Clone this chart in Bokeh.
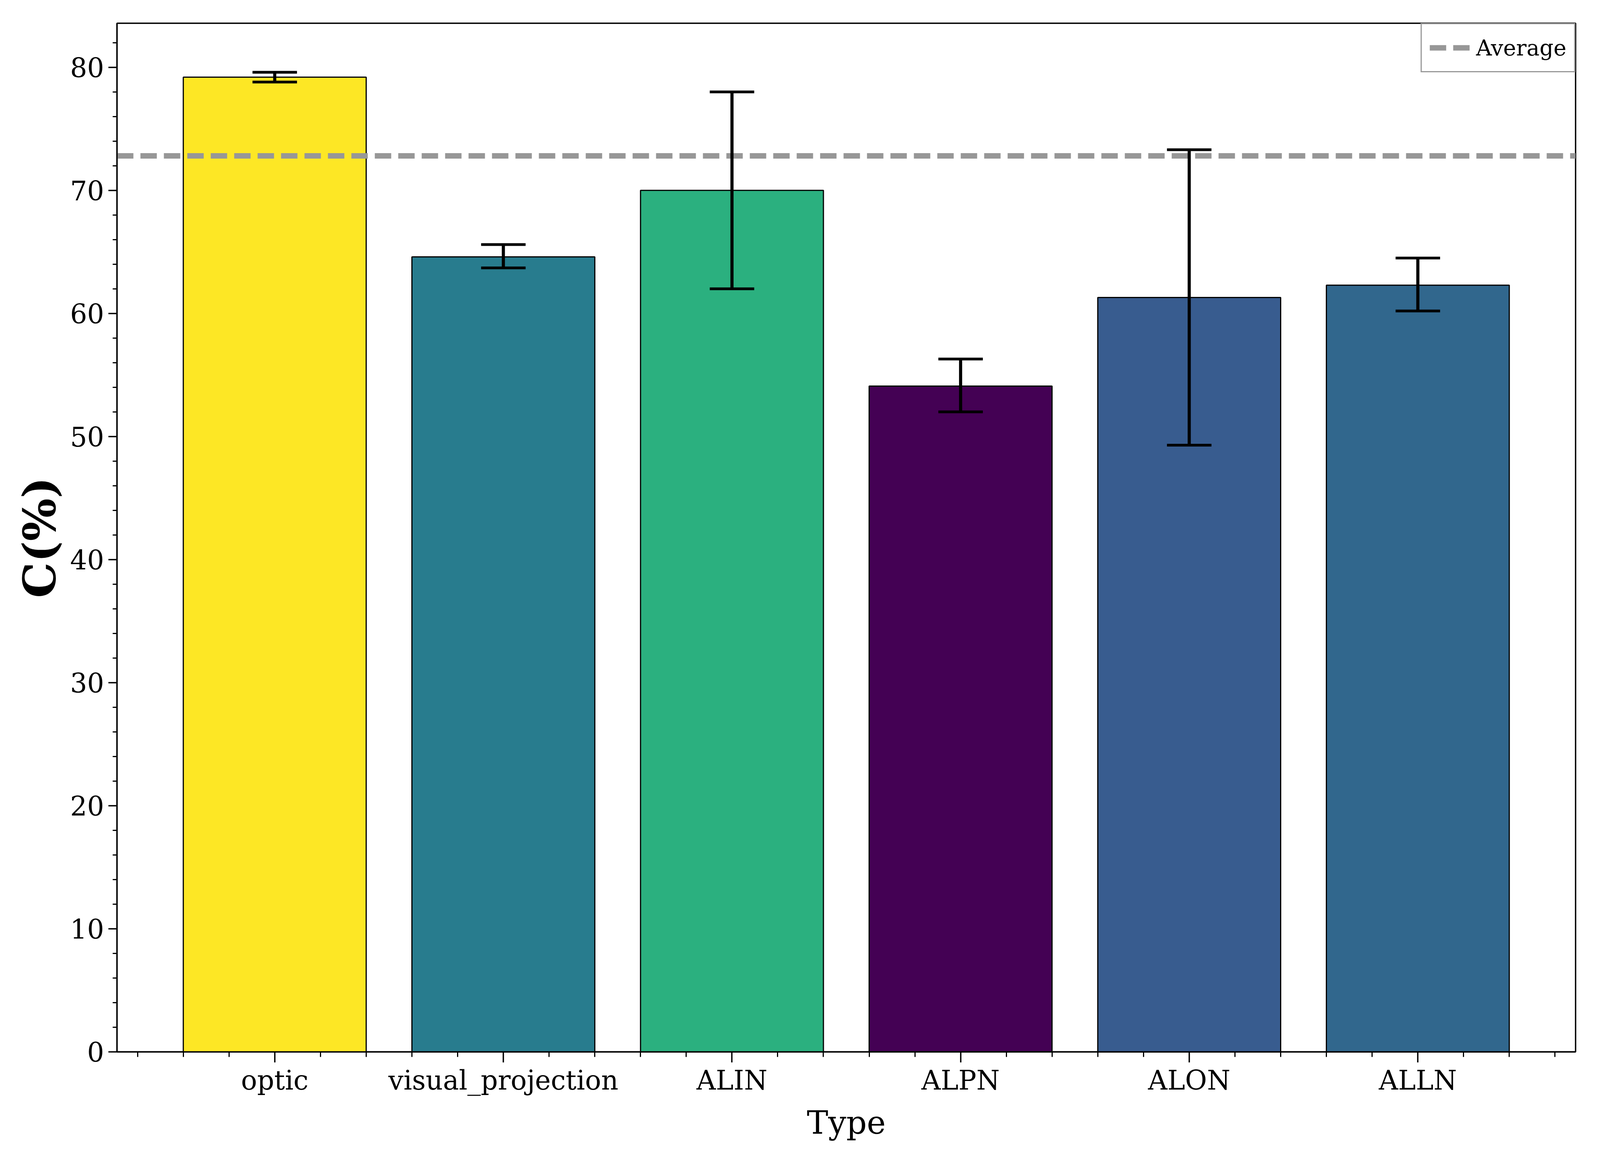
import numpy as np
from bokeh.plotting import figure
from bokeh.models import (ColumnDataSource, FixedTicker, SingleIntervalTicker,
                          Range1d, Whisker, TeeHead)
from bokeh.embed import file_html
from bokeh.resources import INLINE

# ---------------- data ----------------
categories = ["optic", "visual_projection", "ALIN", "ALPN", "ALON", "ALLN"]
values = [79.2, 64.6, 70.0, 54.1, 61.3, 62.3]
err_lower = [78.8, 63.7, 62.0, 52.0, 49.3, 60.2]
err_upper = [79.6, 65.6, 78.0, 56.3, 73.3, 64.5]
bar_colors = ["#fde725", "#287c8e", "#2bb07f", "#440154", "#385c8f", "#31678d"]
average_value = 72.8
x_label = "Type"
y_label = "C(%)"
legend_text = "Average"

FONT = "DejaVu Serif"
SX = 0.8192   # horizontal css px per reference px (viewport is 4096 wide)
SY = 1.0      # vertical
SF = 0.9      # font scale


def fs(v):
    return "%.1fpx" % (v * SF)


pos = list(range(len(categories)))
src = ColumnDataSource(dict(x=pos, top=values, lower=err_lower, upper=err_upper,
                            color=bar_colors, cat=categories))

bar_w = 0.8
span = len(categories) - 1 + bar_w
x_lo = -bar_w / 2 - 0.05 * span
x_hi = len(categories) - 1 + bar_w / 2 + 0.05 * span
y_hi = max(err_upper) * 1.05

W = 4096 - 16
H = 3000 - 16
p = figure(width=W, height=H, output_backend="svg", toolbar_location=None,
           x_range=Range1d(x_lo, x_hi), y_range=Range1d(0, y_hi),
           min_border_left=int(round(375 * SX - 8)),
           min_border_right=int(round(W + 8 - 4933 * SX)),
           min_border_top=int(round(67 * SY - 8)),
           min_border_bottom=int(round(H + 8 - 2700 * SY)))
p.background_fill_color = "white"
p.border_fill_color = "white"
p.xgrid.visible = False
p.ygrid.visible = False
p.outline_line_color = "black"
p.outline_line_width = 3.5

p.vbar(x="x", top="top", width=bar_w, bottom=0, source=src, fill_color="color",
       line_color="black", line_width=3)

err = Whisker(source=src, base="x", lower="lower", upper="upper",
              line_color="black", line_width=8, level="overlay",
              upper_head=TeeHead(size=139 * SX, line_width=7, line_color="black"),
              lower_head=TeeHead(size=139 * SX, line_width=7, line_color="black"))
p.add_layout(err)

avg = p.line(x=[x_lo, x_hi], y=[average_value, average_value], line_color="#979797",
             line_width=14, line_dash="%d %d" % (round(51 * SX), round(22 * SX)),
             legend_label=legend_text)

# axes
xa = p.xaxis[0]
xa.ticker = FixedTicker(ticks=pos,
                        minor_ticks=[round(v, 2) for v in np.arange(-0.6, 5.61, 0.2)])
xa.major_label_overrides = {i: c for i, c in enumerate(categories)}
xa.axis_label = x_label
ya = p.yaxis[0]
ya.ticker = SingleIntervalTicker(interval=10, num_minor_ticks=5)
ya.axis_label = y_label

for ax in (xa, ya):
    ax.axis_line_color = "black"
    ax.axis_line_width = 3.5
    ax.major_tick_line_color = "black"
    ax.major_tick_line_width = 3.5
    ax.minor_tick_line_color = "black"
    ax.minor_tick_line_width = 3
    ax.major_tick_in = 0
    ax.minor_tick_in = 0
    ax.major_label_text_font = FONT
    ax.major_label_text_font_size = fs(76)
    ax.major_label_text_color = "black"
    ax.axis_label_text_font = FONT
    ax.axis_label_text_color = "black"
    ax.axis_label_text_font_style = "normal"

xa.major_tick_out = 27
xa.minor_tick_out = 13
ya.major_tick_out = int(round(27 * SX))
ya.minor_tick_out = int(round(13 * SX))

xa.major_label_standoff = 6
xa.axis_label_text_font_size = "82px"
xa.axis_label_standoff = 18
ya.major_label_standoff = 11
ya.axis_label_text_font_size = "115px"
ya.axis_label_text_font_style = "bold"
ya.axis_label_standoff = 8

lg = p.legend[0]
lg.location = "top_right"
lg.margin = 0
lg.padding = 20
lg.border_line_color = "#333333"
lg.border_line_width = 3
lg.background_fill_color = "white"
lg.background_fill_alpha = 1.0
lg.label_text_font = FONT
lg.label_text_font_size = fs(62)
lg.label_text_color = "black"
lg.glyph_width = int(round(126 * SX))
lg.glyph_height = 80
lg.label_height = 80
lg.label_standoff = 16

open("out.html", "w").write(file_html(p, INLINE))
